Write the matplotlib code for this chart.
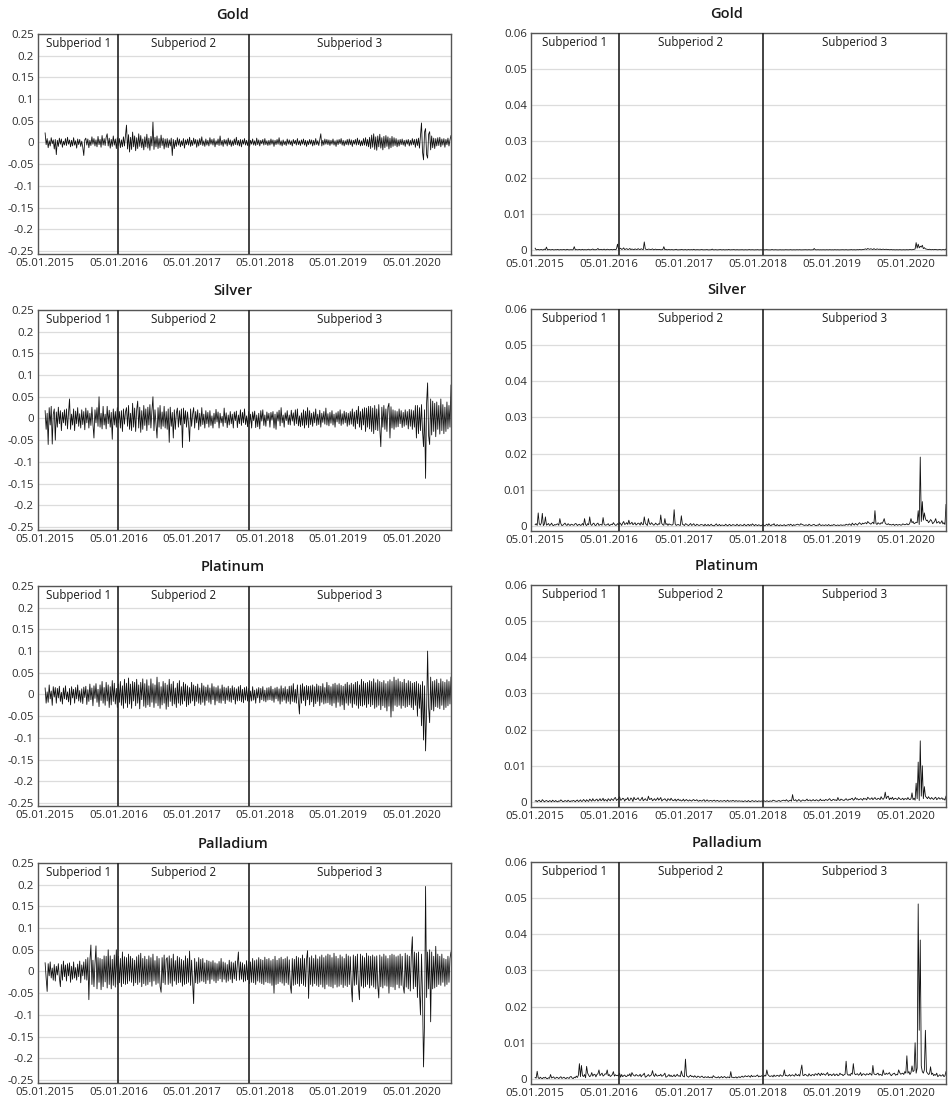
import numpy as np
import matplotlib.pyplot as plt

plt.rcParams['font.family'] = ['Open Sans', 'DejaVu Sans']

# ==========================================
# data (returns in %, about every 3.5 trading days)
# ==========================================
metals = ["Gold", "Silver", "Platinum", "Palladium"]
period_names = ["Subperiod 1", "Subperiod 2", "Subperiod 3"]
date_labels = ["05.01.2015", "05.01.2016", "05.01.2017",
               "05.01.2018", "05.01.2019", "05.01.2020"]
date_label_pos = [0, 72, 144, 216, 288, 360]   # sample index of each date

# subperiod borders as drawn in the two columns
split_pos_ret = [72, 200]
split_pos_sq = [81, 221]

ret_ticks = [-0.25, -0.2, -0.15, -0.1, -0.05, 0, 0.05, 0.1, 0.15, 0.2, 0.25]
sq_ticks = [0, 0.01, 0.02, 0.03, 0.04, 0.05, 0.06]

gold_pct = [
    2.2, -0.5, 0.9, -1.2, 0.4, -0.8, 1.1, -0.3, 0.6, -1.5, 0.7, -2.8, 0.5, -0.9, 1.0, -0.4, 0.8, -1.1, 0.3, -0.6,
    0.9, -0.7, 1.2, -0.4, 0.6, -1.0, 0.5, -0.8, 1.1, -0.6, 0.4, -1.3, 0.8, -0.5, 0.7, -0.9, 0.3, -1.1, -3.0, 0.6,
    1.0, -0.6, 0.8, -1.2, 0.5, -0.7, 1.3, -0.4, 0.9, -0.8, 0.6, -1.0, 1.4, -0.5, 0.7, -1.1, 1.6, -0.6, 0.9, -0.7,
    1.2, 2.0, -0.8, 1.0, -1.3, 0.7, -0.9, 1.5, -0.6, 0.8, -1.4, 1.1, -0.7, 0.9, -1.2, 0.6, -1.0, 1.3, -0.8, 1.6,
    4.0, -1.5, 1.8, -2.2, 1.2, -1.6, 2.4, -1.0, 1.5, -1.9, 1.1, -1.4, 2.0, -0.9, 1.6, -1.2, 0.8, -1.7, 1.3, -1.0,
    1.9, -1.3, 1.0, -1.8, 1.4, -0.8, 4.7, -1.6, 1.2, -1.0, 1.5, -1.4, 0.9, -1.2, 1.7, -0.7, 1.0, -1.5, 0.8, -1.1,
    0.9, -1.2, 0.6, -0.8, 1.0, -3.0, 0.7, -1.4, 0.5, -0.9, 1.1, -0.6, 0.8, -1.0, 0.4, -0.7, 0.9, -1.3, 0.6, -0.5,
    0.8, -0.6, 1.2, -0.9, 0.5, -0.7, 1.0, -0.4, 0.7, -1.1, 0.6, -0.8, 0.9, -0.5, 1.3, -0.7, 0.4, -0.9, 0.8, -0.6,
    0.5, -0.8, 1.1, -0.4, 0.7, -0.6, 0.9, -1.0, 0.4, -0.5, 0.8, -0.7, 1.5, -0.6, 0.5, -0.9, 0.7, -0.4, 0.6, -0.8,
    1.0, -0.5, 0.6, -0.9, 0.4, -0.7, 0.8, -0.5, 1.2, -0.6, 0.5, -0.8, 0.7, -1.0, 0.6, -0.4, 0.9, -0.6, 0.5, -0.7,
    0.6, -0.9, 0.5, -0.4, 0.8, -0.6, 0.4, -0.7, 1.0, -0.5, 0.6, -0.8, 0.5, -0.3, 0.7, -0.6, 0.9, -0.5, 0.4, -0.7,
    0.5, -0.6, 0.8, -0.4, 0.6, -0.9, 0.5, -0.5, 0.7, -0.4, 1.1, -0.6, 0.4, -0.8, 0.6, -0.5, 0.3, -0.7, 0.8, -0.4,
    0.6, -0.5, 0.4, -0.8, 0.7, -0.3, 0.5, -0.6, 0.9, -0.5, 0.4, -0.7, 0.6, -0.4, 0.8, -0.6, 0.5, -0.9, 0.4, -0.5,
    0.7, -0.4, 0.6, -0.8, 0.5, -0.6, 0.9, -0.5, 0.4, -0.7, 0.6, 2.0, -0.8, 0.5, -0.6, 0.8, -0.4, 0.7, -0.5, 0.6,
    -0.7, 0.5, -0.4, 0.8, -0.6, 0.4, -0.9, 0.6, -0.5, 0.7, -0.3, 0.9, -0.6, 0.5, -0.8, 0.4, -0.5, 0.7, -0.6, 0.8,
    -0.5, 0.6, -0.9, 0.5, -0.4, 0.7, -0.6, 1.0, -0.5, 0.6, -0.8, 0.4, -0.7, 0.9, -0.6, 1.1, -0.8, 0.7, -1.0, 1.2,
    -1.4, 1.7, -1.1, 2.0, -1.6, 1.3, -1.8, 1.5, -1.0, 1.9, -1.3, 1.1, -1.7, 1.4, -1.2, 1.6, -0.9, 1.3, -1.5, 1.0,
    -1.2, 1.4, -0.9, 1.1, -0.7, 0.9, -1.0, 0.6, -0.8, 0.7, -0.5, 0.8, -0.6, 0.5, -0.9, 0.6, -0.4, 0.7, -0.8, 0.5,
    -0.6, 0.9, -0.5, 0.7, -1.1, 0.8, -0.7, 1.0, -1.3, 1.6, 4.5, -2.2, -4.0, 2.4, 3.2, -2.8, -3.6, 1.9, 2.5, -1.7,
    1.5, -1.2, 1.0, -1.4, 0.9, -0.8, 1.1, -0.7, 1.2, -1.0, 0.8, -0.6, 0.9, -1.1, 0.7, -0.5, 1.0, -0.8, 0.6, 1.6,
]

silver_pct = [
    1.8, -2.5, 1.2, -6.0, 2.5, -1.5, 2.8, -5.9, 1.0, 2.2, -5.0, 1.5, -2.0, 2.6, -1.2, 1.8, -2.8, 1.4, -1.0, 2.0,
    -1.6, 2.2, -2.4, 1.3, 4.5, -2.5, 1.0, -1.5, 2.2, -2.8, 1.7, -1.2, 2.5, -1.8, 1.1, -2.2, 2.0, -1.4, 1.6, -2.6,
    2.4, -1.0, 1.8, -2.2, 1.2, -1.6, 2.6, -1.3, -4.5, 2.0, -1.0, 2.5, -1.8, 5.0, -2.0, 1.2, -2.4, 2.8, -1.5, 1.0,
    -2.4, 2.8, -1.2, 1.9, -2.0, 1.4, -4.8, 2.2, -1.5, 1.6, -2.0, 2.5, -1.0, 1.6, -2.2, 1.8, -3.0, 2.2, -1.3, 1.5,
    2.5, -1.8, 3.0, -2.5, 1.2, -2.8, 3.5, -2.0, 2.4, -3.0, 2.0, 4.0, -2.2, 2.6, -3.2, 1.8, -2.5, 3.0, -1.6, 2.2,
    -2.8, 2.6, -1.5, 3.2, -2.2, 1.8, 5.0, -2.8, 2.0, -1.2, -4.5, 2.5, -2.0, 3.0, -2.4, 1.5, -1.8, 2.8, -2.2, 1.6,
    -2.5, 2.2, -5.5, 2.6, -1.8, 1.4, -4.5, 2.0, -2.5, 1.2, 2.4, -2.0, 1.8, -1.5, 2.2, -6.7, 2.4, -1.2, 1.8, -2.0,
    1.5, -1.2, -5.3, 2.2, -1.8, 1.0, 2.5, -2.2, 1.6, -1.0, 2.0, -2.6, 1.2, -1.8, 2.5, -1.4, 1.0, -2.2, 1.8, -1.2,
    1.4, -2.0, 1.8, -1.6, 0.6, -2.2, 1.2, -1.2, 2.1, -0.8, 1.5, -2.2, 1.2, -1.0, 0.5, -1.8, 2.4, -1.0, 1.3, -2.1,
    0.8, -1.5, 1.6, -1.2, 1.0, -2.2, 1.5, -0.5, 1.7, -2.1, 0.8, -1.2, 2.0, -1.6, 1.4, -1.0, 2.2, -1.4, 0.6, -1.9,
    1.6, -1.2, 1.0, -2.2, 1.5, -0.5, 1.7, -2.1, 0.8, -1.9, 1.2, -2.4, 1.8, -0.6, 2.0, -1.6, 0.8, -1.8, 1.5, -0.5,
    1.2, -2.0, 1.4, -0.4, 1.6, -2.2, 1.0, -2.5, 1.5, -0.6, 1.9, -1.7, 2.5, -1.0, 0.8, -2.0, 1.3, -0.5, 1.8, -1.4,
    0.8, -1.5, 1.9, -0.6, 1.3, -1.6, 2.0, -1.2, 2.2, -1.7, 0.6, -1.9, 1.3, -1.6, 2.0, -2.2, 1.7, -1.5, 2.5, -2.1,
    1.8, -1.4, 1.2, -1.8, 1.5, -1.0, 2.2, -1.6, 1.0, -1.4, 1.9, -2.0, 1.2, -0.9, 1.6, -1.3, 2.4, -1.5, 1.1, -1.7,
    1.4, -1.1, 1.8, -1.5, 1.0, -2.0, 1.3, -0.8, 1.6, -1.2, 2.0, -1.6, 1.1, -1.3, 1.7, -1.0, 1.4, -1.8, 1.2, -1.5,
    1.6, -1.3, 2.2, -1.8, 1.5, -2.4, 1.9, -1.2, 2.8, -2.0, 1.6, -2.6, 2.2, -1.5, 2.5, -3.0, 2.4, -2.0, 2.8, -2.4,
    2.8, -3.0, 2.4, -3.5, 3.0, -2.6, 2.2, -2.8, 3.2, -2.4, -6.5, 2.6, -2.0, 3.0, -2.5, 2.2, -3.0, 2.6, 3.5, -4.5,
    2.7, -2.2, 2.0, -2.5, 1.8, -2.0, 1.6, -1.9, 2.2, -1.2, 1.8, -2.1, 1.4, -1.8, 2.0, -1.5, 1.6, -2.4, 2.1, -1.8,
    2.0, -2.5, 1.8, -2.0, 3.0, -4.5, 3.0, -3.5, 2.5, -2.8, 3.2, -3.0, -6.5, 2.0, -13.8, 3.5, 8.2, -4.0, -6.0, 4.5,
    -3.8, 4.0, -3.0, 3.5, -4.2, 3.8, -2.5, 3.0, -3.6, 4.5, -2.8, 3.2, -3.5, 2.6, -3.0, 3.8, -2.4, 3.0, -2.0, 7.7,
]

platinum_pct = [
    1.5, -2.0, 0.6, -1.8, 2.2, -1.0, 0.8, -2.5, 1.8, -0.6, 1.6, -2.0, 1.4, -0.8, 1.9, -1.6, 0.5, -2.2, 1.5, -1.0,
    2.0, -1.2, 0.6, -1.7, 1.4, -2.4, 1.8, -0.8, 1.2, -2.0, 1.6, -1.0, 2.2, -1.5, 0.9, -1.8, 1.3, -2.1, 1.7, -0.7,
    1.9, -2.3, 1.1, -1.6, 2.4, -1.2, 1.5, -2.6, 2.0, -0.9, 2.5, -1.8, 1.2, -2.8, 2.2, -1.4, 3.0, -2.0, 1.6, -2.5,
    2.8, -1.5, 2.2, -3.0, 1.8, -2.4, 3.2, -1.6, 2.6, -2.2, 1.4, -3.0, 2.4, -1.8, 3.0, -2.5, 2.0, -3.2, 3.5, -2.0,
    2.6, -3.0, 3.8, -2.2, 2.4, -3.2, 3.0, -1.5, 2.8, -2.6, 3.5, -2.0, 2.2, -3.3, 2.8, -1.2, 3.6, -2.7, 2.5, -3.0,
    3.4, -2.4, 2.0, -2.8, 3.6, -1.8, 2.5, -3.0, 2.2, -2.0, 4.0, -2.6, 2.8, -3.2, 1.8, -2.4, 3.0, -2.0, 2.6, -3.4,
    2.2, -2.8, 3.5, -1.6, 2.4, -2.6, 3.0, -2.2, 1.5, -3.0, 2.6, -2.0, 3.2, -2.5, 1.8, -2.2, 2.8, -1.5, 2.4, -2.8,
    2.0, -2.4, 1.6, -2.0, 2.8, -1.5, 2.2, -2.6, 1.9, -1.6, 2.4, -2.0, 1.5, -2.3, 2.6, -1.8, 2.0, -2.5, 1.7, -1.4,
    2.2, -1.8, 1.5, -2.2, 2.5, -1.2, 1.8, -2.4, 1.6, -1.5, 2.0, -1.9, 1.3, -2.0, 2.2, -1.4, 1.7, -2.1, 1.5, -1.3,
    1.9, -1.6, 1.4, -1.8, 2.0, -1.2, 1.6, -2.2, 1.3, -1.5, 1.8, -1.4, 2.1, -1.7, 1.2, -1.9, 1.6, -1.3, 1.8, -1.5,
    1.4, -1.7, 0.8, -1.5, 1.8, -1.3, 1.0, -2.0, 1.3, -0.8, 1.6, -1.9, 1.4, -1.2, 1.8, -1.5, 1.0, -1.7, 1.5, -1.3,
    1.6, -1.2, 1.9, -1.4, 1.2, -1.8, 1.5, -1.0, 1.7, -1.5, 1.3, -2.2, 2.0, -1.6, 1.4, -1.3, 1.8, -2.0, 1.2, -1.6,
    1.9, -2.2, 2.0, -1.6, 2.5, -1.8, 1.2, -2.0, 2.2, -1.5, -4.5, 2.2, -2.0, 2.5, -1.4, 1.8, -2.6, 2.1, -1.2, 1.9,
    -2.4, 2.0, -1.7, 2.2, -2.8, 1.8, -2.1, 2.4, -1.6, 2.0, -2.6, 1.9, -1.8, 2.5, -2.2, 1.6, -2.0, 2.8, -1.9, 2.1,
    -2.3, 1.8, -2.6, 2.4, -2.0, 2.6, -3.0, 2.2, -1.8, 2.5, -2.7, 2.1, -2.4, 1.9, -3.5, 2.4, -2.0, 2.8, -2.5, 2.2,
    -2.0, 2.6, -3.0, 2.3, -2.2, 2.8, -2.5, 3.0, -3.2, 2.2, -2.6, 3.5, -2.7, 3.0, -2.4, 2.6, -3.0, 2.8, -2.2, 3.2,
    -2.8, 3.0, -2.4, 3.6, -3.2, 2.7, -2.9, 3.4, -2.5, 3.0, -3.5, 2.8, -2.6, 3.2, -3.0, 2.5, -3.8, 3.0, -2.7, 3.4,
    -5.2, 3.0, -3.8, 4.0, -2.5, 3.3, -2.8, 3.6, -2.5, 3.0, -3.2, 2.8, -2.6, 3.5, -3.0, 2.6, -2.8, 3.2, -2.4, 3.0,
    -3.0, 2.6, -3.5, 2.8, -2.5, 3.0, -5.0, 2.5, -3.2, 2.2, -7.2, 3.0, -10.5, 2.0, -13.0, -4.0, 10.0, -3.0, -6.5, 4.0,
    -3.5, 3.0, -3.8, 3.2, -2.8, 3.5, -3.0, 2.6, -3.3, 3.6, -2.5, 3.0, -3.5, 2.8, -3.0, 3.4, -2.6, 3.0, -2.2, 4.0,
]

palladium_pct = [
    2.0, -1.5, -4.6, 1.8, -1.0, 2.2, -1.5, 0.8, -2.0, 1.6, -2.2, 1.2, -0.8, 1.8, -1.4, -3.5, 1.6, -2.0, 2.4, -1.2,
    1.5, -2.2, 1.8, -1.0, 2.0, -2.5, 1.2, -1.8, 2.2, -1.5, 0.9, -2.0, 1.7, -1.2, 2.4, -2.6, 1.5, -1.0, 2.2, -1.8,
    2.8, -2.0, 3.2, -6.5, 2.5, 6.1, -3.0, 2.6, -3.5, 1.8, 5.9, -4.0, 3.2, -2.5, 3.0, -4.2, 2.8, -3.5, 3.6, -2.4,
    3.5, -3.8, 5.0, -3.0, 3.6, -4.0, 2.8, -3.2, 3.8, -3.6, 5.0, -3.0, 3.5, -2.6, 3.0, -3.5, 4.5, -2.8, 3.4, -3.0,
    3.2, -2.8, 4.0, -2.2, 3.5, -2.5, 3.0, -3.3, 2.6, -2.6, 3.4, -3.0, 3.8, -2.5, 4.2, -3.5, 3.0, -2.8, 3.5, -3.2,
    2.8, -3.0, 3.6, -2.4, 3.2, -3.4, 4.0, -2.2, 2.5, -3.0, 3.5, -2.7, 3.0, -3.4, -4.8, 3.2, -2.6, 3.8, -3.0, 2.8,
    3.2, -3.0, 3.6, -2.7, 3.0, -3.4, 4.0, -2.2, 2.5, -3.0, 3.5, -2.6, 3.2, -2.5, 2.8, -3.4, 2.5, -3.0, 3.6, -2.8,
    3.0, -2.5, 4.7, -3.2, 2.6, -2.4, -7.4, 3.0, -2.6, 2.2, -2.8, 3.2, -2.5, 2.8, -2.2, 3.0, -2.4, 2.0, -2.8, 2.6,
    -2.0, 2.4, -2.8, 2.2, -1.8, 2.5, -2.2, 2.0, -2.6, 1.8, -2.1, 2.3, -1.7, 3.0, -2.4, 2.2, -1.8, 2.0, -2.5, 1.6,
    -2.2, 2.6, -1.8, 2.2, -2.6, 2.0, -1.7, 2.4, -2.1, 1.8, 4.5, -2.0, 2.2, -1.8, 2.0, -2.4, 1.6, -2.2, 2.5, -1.9,
    2.4, -2.8, 2.2, -2.5, 3.0, -2.6, 2.5, -3.0, 2.7, -2.2, 3.2, -2.5, 2.8, -2.8, 2.6, -3.0, 3.3, -2.4, 2.8, -2.6,
    3.0, -2.7, 2.5, -3.2, 2.8, -5.0, 3.5, -3.0, 2.6, -2.8, 3.0, -2.4, 3.3, -2.7, 2.8, -3.2, 3.0, -2.6, 3.4, -3.0,
    2.7, -3.2, -5.0, 3.0, -3.2, 2.8, -3.0, 3.5, -2.8, 3.2, -3.4, 3.0, -2.8, 3.8, -3.2, 3.0, -3.5, 2.8, 4.8, -6.2,
    3.2, -3.0, 3.6, -3.4, 3.0, -2.8, 3.8, -3.2, 2.9, -3.5, 3.4, -3.0, 3.8, -3.6, 3.2, -4.0, 3.6, -3.0, 4.0, -3.4,
    3.8, -3.5, 3.2, -3.8, 4.2, -3.0, 3.5, -3.6, 3.0, -3.4, 3.8, -3.0, 3.4, -3.7, 3.0, -3.2, 4.0, -3.5, 3.6, -3.0,
    3.4, -3.6, -7.0, 3.8, -3.2, 3.5, -3.0, 4.0, -3.6, -6.5, 4.0, -3.4, 3.6, -3.8, 3.2, -3.5, 4.2, -3.0, 3.6, -3.8,
    3.5, -3.2, 3.8, -3.6, 3.4, -4.0, 3.6, -3.2, -6.1, 3.8, -3.5, 3.4, -3.8, 4.0, -3.2, 3.6, -3.4, 3.0, -5.0, 3.7,
    -3.5, 4.0, -3.6, 3.8, -4.2, 3.4, -3.0, 3.6, -3.8, 4.0, -3.2, 3.5, -3.4, -5.0, 4.2, -3.6, 3.8, -4.0, 3.5, -4.5,
    4.0, 8.0, -4.0, 4.5, -3.5, 4.2, -6.0, 4.5, -4.8, -10.0, 4.0, -5.5, -22.0, -11.6, 19.6, -6.0, 4.5, -4.0, 5.0, -11.6,
    4.5, -4.0, 3.5, -3.8, 5.8, -3.5, 4.0, -3.0, 3.5, -3.2, 4.0, -2.5, 3.0, -3.4, 2.8, -3.0, 3.5, -2.5, 3.0, 4.5,
]

all_pct = [gold_pct, silver_pct, platinum_pct, palladium_pct]


def style_panel(ax, title, ticks, ylim, xlim, splits):
    ax.set_xlim(*xlim)
    ax.set_ylim(*ylim)
    ax.set_yticks(ticks)
    ax.set_yticklabels([f"{t:g}" for t in ticks])
    ax.set_xticks(date_label_pos)
    ax.set_xticklabels(date_labels)
    ax.tick_params(length=0, labelsize=8.2, colors='#2b2b2b', pad=3)
    ax.yaxis.grid(True, color='#dcdcdc', lw=0.9)
    ax.set_axisbelow(True)
    for sp in ax.spines.values():
        sp.set_color('#555555')
        sp.set_linewidth(1.0)
    ax.set_title(title, x=0.472, fontsize=10.5, color='#1a1a1a', pad=11,
                 fontweight='semibold')

    # subperiod borders and labels
    for s in splits:
        ax.axvline(s, color='#222222', lw=1.2, zorder=3)
    edges = [xlim[0]] + list(splits) + [xlim[1]]
    for i, name in enumerate(period_names):
        ax.text((edges[i] + edges[i + 1]) / 2, 0.955, name,
                transform=ax.get_xaxis_transform(), ha='center', va='center',
                fontsize=8.3, color='#1a1a1a')


def main():
    W, H = 948, 1102
    fig = plt.figure(figsize=(W / 100, H / 100), dpi=100)

    tops = [34, 310, 586, 863]
    h = 220
    for row, (name, pct) in enumerate(zip(metals, all_pct)):
        ret = np.array(pct) / 100.0
        idx = np.arange(len(ret))

        # left: daily returns
        axl = fig.add_axes([38 / W, 1 - (tops[row] + h) / H, 413 / W, h / H])
        axl.plot(idx, ret, color='#111111', lw=0.6, zorder=2)
        style_panel(axl, name, ret_ticks, (-0.257, 0.25), (-7, len(ret) - 1),
                    split_pos_ret)

        # right: squared returns
        axr = fig.add_axes([531 / W, 1 - (tops[row] + h + 1) / H, 415 / W, (h + 2) / H])
        axr.plot(idx, ret ** 2, color='#111111', lw=0.6, zorder=2)
        style_panel(axr, name, sq_ticks, (-0.0014, 0.06), (-4, len(ret) - 1),
                    split_pos_sq)

    fig.savefig("out.png", dpi=100)


if __name__ == "__main__":
    main()
